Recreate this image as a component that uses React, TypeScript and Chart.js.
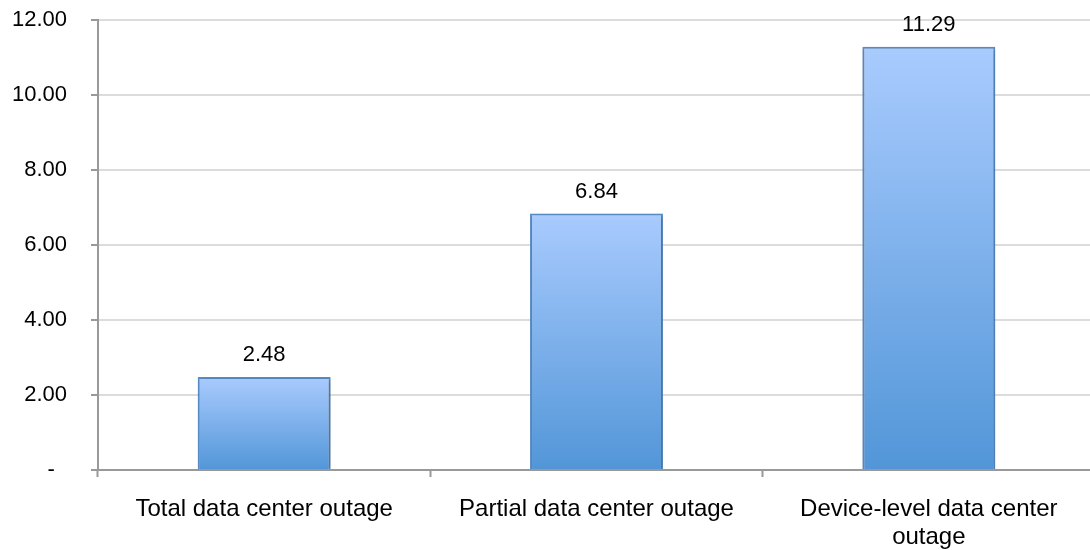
import React, { useEffect, useRef } from "react";
import { Chart, registerables } from "chart.js";

Chart.register(...registerables);

const categories: (string | string[])[] = [
  "Total data center outage",
  "Partial data center outage",
  ["Device-level data center", "outage"],
];
const values: number[] = [2.48, 6.84, 11.29];
const yTicks: number[] = [0, 2, 4, 6, 8, 10, 12];

const FONT = '"Liberation Sans", Arial, Helvetica, sans-serif';

const valueLabelPlugin = {
  id: "valueLabels",
  afterDatasetsDraw(chart: any) {
    const ctx = chart.ctx;
    const meta = chart.getDatasetMeta(0);
    ctx.save();
    ctx.font = `22px ${FONT}`;
    ctx.fillStyle = "#000000";
    ctx.textAlign = "center";
    ctx.textBaseline = "alphabetic";
    meta.data.forEach((el: any, i: number) => {
      ctx.fillText(values[i].toFixed(2), el.x, el.y - 16);
    });
    ctx.restore();
  },
};

const shadowPlugin = {
  id: "barShadow",
  beforeDatasetsDraw(chart: any) {
    const ctx = chart.ctx;
    ctx.save();
    ctx.shadowColor = "rgba(0,0,0,0.28)";
    ctx.shadowBlur = 4;
    ctx.shadowOffsetX = 1;
    ctx.shadowOffsetY = 1;
  },
  afterDatasetsDraw(chart: any) {
    chart.ctx.restore();
  },
};

export default function App() {
  const ref = useRef<HTMLCanvasElement | null>(null);

  useEffect(() => {
    if (!ref.current) return;
    const chart = new Chart(ref.current, {
      type: "bar",
      data: {
        labels: categories as any,
        datasets: [
          {
            data: values,
            backgroundColor: (c: any) => {
              const ch = c.chart;
              const area = ch.chartArea;
              const ys = ch.scales && ch.scales.y;
              if (!area || !ys || c.parsed == null) return "#7fb0ec";
              const top = ys.getPixelForValue(c.parsed.y);
              const bottom = ys.getPixelForValue(0);
              const g = ch.ctx.createLinearGradient(0, top, 0, bottom);
              g.addColorStop(0, "#a9cbfe");
              g.addColorStop(1, "#5296d8");
              return g;
            },
            borderColor: "#5a8ec9",
            borderWidth: 2,
            borderSkipped: "start",
            categoryPercentage: 1,
            barPercentage: 0.4,
          },
        ],
      },
      options: {
        responsive: false,
        animation: false,
        devicePixelRatio: 1,
        layout: { padding: { top: 20, right: 5, left: 0, bottom: 0 } },
        plugins: {
          legend: { display: false },
          tooltip: { enabled: false },
        },
        scales: {
          x: {
            offset: true,
            grid: {
              offset: true,
              drawOnChartArea: false,
              drawTicks: true,
              tickLength: 7,
              tickColor: "#999999",
              tickWidth: 2,
            },
            border: { color: "#999999", width: 2 },
            ticks: {
              font: { family: FONT, size: 24, lineHeight: 1.15 },
              color: "#000000",
              padding: 19,
              maxRotation: 0,
              autoSkip: false,
            },
            afterFit: (s: any) => {
              s.height = 80;
              s.paddingLeft = 0;
              s.paddingRight = 0;
            },
          },
          y: {
            min: 0,
            max: 12,
            afterBuildTicks: (s: any) => {
              s.ticks = yTicks.map((v) => ({ value: v }));
            },
            grid: {
              color: "#dcdcdc",
              lineWidth: 2,
              tickLength: 7,
              tickColor: "#999999",
              tickWidth: 2,
            },
            border: { color: "#999999", width: 2 },
            ticks: {
              font: { family: FONT, size: 22 },
              color: "#000000",
              padding: 24,
              callback: (v: any) => (Number(v) === 0 ? "-  " : Number(v).toFixed(2)),
            },
            afterFit: (s: any) => {
              s.width = 98;
              s.paddingTop = 0;
              s.paddingBottom = 0;
            },
          },
        },
      },
      plugins: [shadowPlugin, valueLabelPlugin],
    });
    return () => chart.destroy();
  }, []);

  return (
    <div
      style={{
        position: "fixed",
        left: 0,
        top: 0,
        width: 1090,
        height: 550,
        overflow: "hidden",
        background: "#ffffff",
      }}
    >
      <canvas ref={ref} width={1100} height={550} style={{ width: 1100, height: 550, display: "block" }} />
    </div>
  );
}
